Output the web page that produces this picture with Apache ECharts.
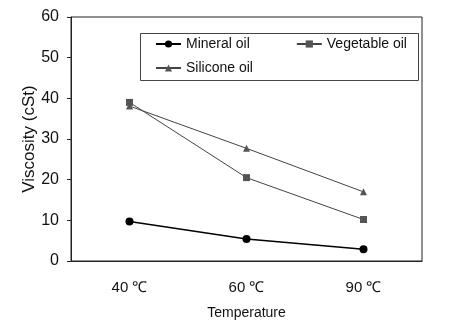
<!DOCTYPE html>
<html><head><meta charset="utf-8">
<script src="https://cdn.jsdelivr.net/npm/echarts@6/dist/echarts.min.js"></script>
<style>html,body{margin:0;padding:0;background:#fff}#c{width:450px;height:328px}</style>
</head><body><div id="c"></div>
<script>
const categories = ['40 ℃', '60 ℃', '90 ℃'];
const mineralOil = [9.7, 5.4, 2.9];
const vegetableOil = [39.0, 20.5, 10.2];
const siliconeOil = [38.1, 27.7, 17.0];
const yTicks = {min: 0, max: 60, interval: 10};

const font = "Arial, 'Liberation Sans', sans-serif";
const chart = echarts.init(document.getElementById('c'), null, {renderer: 'canvas'});
chart.setOption({
  animation: false,
  backgroundColor: '#fff',
  grid: {left: 71, right: 28, top: 17, bottom: 67, show: true, borderColor: '#222', borderWidth: 1},
  graphic: [{type: 'rect', left: 138, top: 31, shape: {width: 278, height: 47},
    style: {fill: 'none', stroke: '#444', lineWidth: 1}, z: 10}],
  legend: [
    {data: ['Mineral oil', 'Vegetable oil'], left: 155, top: 37, padding: 0, itemGap: 46,
     itemWidth: 25, itemHeight: 9, textStyle: {fontFamily: font, fontSize: 14, color: '#111'}},
    {data: ['Silicone oil'], left: 155, top: 61, padding: 0,
     itemWidth: 25, itemHeight: 9, textStyle: {fontFamily: font, fontSize: 14, color: '#111'}}
  ],
  xAxis: {
    type: 'category', data: categories, boundaryGap: true,
    axisLine: {lineStyle: {color: '#222'}},
    axisTick: {inside: true, length: 5, lineStyle: {color: '#222'}},
    axisLabel: {color: '#111', fontFamily: font, fontSize: 15, margin: 19},
    name: 'Temperature', nameLocation: 'middle', nameGap: 45, nameMoveOverlap: false,
    nameTextStyle: {color: '#111', fontFamily: font, fontSize: 14}
  },
  yAxis: {
    type: 'value', min: yTicks.min, max: yTicks.max, interval: yTicks.interval,
    splitLine: {show: false},
    axisLine: {show: true, lineStyle: {color: '#222'}},
    axisTick: {show: true, length: 4, lineStyle: {color: '#222'}},
    axisLabel: {color: '#111', fontFamily: font, fontSize: 16, margin: 12},
    name: 'Viscosity (cSt)', nameLocation: 'middle', nameGap: 33, nameMoveOverlap: false,
    nameTextStyle: {color: '#111', fontFamily: font, fontSize: 17}
  },
  series: [
    {name: 'Mineral oil', type: 'line', data: mineralOil, symbol: 'circle', symbolSize: 8,
     itemStyle: {color: '#000'}, lineStyle: {color: '#000', width: 1.5}},
    {name: 'Vegetable oil', type: 'line', data: vegetableOil, symbol: 'rect', symbolSize: 7,
     itemStyle: {color: '#555'}, lineStyle: {color: '#444', width: 1}},
    {name: 'Silicone oil', type: 'line', data: siliconeOil, symbol: 'triangle', symbolSize: 7,
     itemStyle: {color: '#555'}, lineStyle: {color: '#444', width: 1}}
  ]
});
</script></body></html>
